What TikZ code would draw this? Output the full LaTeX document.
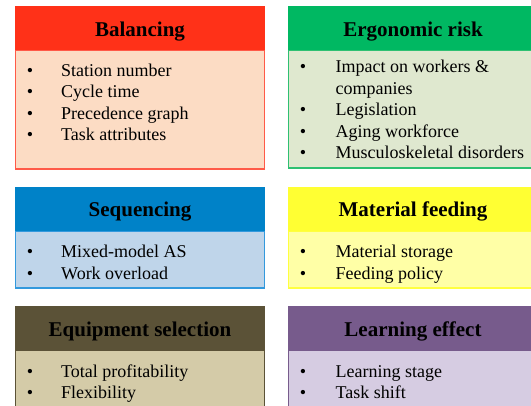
\documentclass[tikz,border=0pt]{standalone}
\usepackage{fontspec}
\setmainfont{Liberation Serif}
\definecolor{balH}{HTML}{FF3118}
\definecolor{balB}{HTML}{FCDCC4}
\definecolor{balE}{HTML}{FF5A48}
\definecolor{ergH}{HTML}{00B862}
\definecolor{ergB}{HTML}{DFE8CF}
\definecolor{ergE}{HTML}{2EC072}
\definecolor{seqH}{HTML}{0082C8}
\definecolor{seqB}{HTML}{BFD5EA}
\definecolor{seqE}{HTML}{3399DD}
\definecolor{matH}{HTML}{FFFF33}
\definecolor{matB}{HTML}{FFFFA6}
\definecolor{matE}{HTML}{FFFF40}
\definecolor{eqH}{HTML}{5B5237}
\definecolor{eqB}{HTML}{D4CBA8}
\definecolor{eqE}{HTML}{5B5237}
\definecolor{leH}{HTML}{775B8C}
\definecolor{leB}{HTML}{D6CCE2}
\definecolor{leE}{HTML}{775B8C}
\newcommand\mypanel[8]{%
  \fill[#7] (#1,#4) rectangle (#2,#5);
  \draw[#8,line width=1.2pt] (#1,#4) rectangle (#2,#5);
  \fill[#6] (#1-0.6,#3) rectangle (#2+0.6,#4);
}
\begin{document}
\begin{tikzpicture}[x=1pt,y=-1pt,
  title/.style={font=\bfseries\fontsize{21}{25}\selectfont, anchor=base, inner sep=0pt},
  item/.style={font=\fontsize{18}{21.5}\selectfont, anchor=base west, inner sep=0pt},
  bul/.style={font=\fontsize{18}{21.5}\selectfont, anchor=base, inner sep=0pt}]
\useasboundingbox (0,0) rectangle (531,405);
\clip (0,0) rectangle (531,405);
\fill[white] (0,0) rectangle (531,405);
% panels
\mypanel{15.5}{264.5}{6}{50}{169}{balH}{balB}{balE}
\mypanel{288.5}{538}{6}{50}{168}{ergH}{ergB}{ergE}
\mypanel{15.5}{264.5}{187}{231}{288}{seqH}{seqB}{seqE}
\mypanel{288.5}{538}{187}{231}{288}{matH}{matB}{matE}
\mypanel{15.5}{264.5}{306}{350}{420}{eqH}{eqB}{eqE}
\mypanel{288.5}{538}{306}{350}{420}{leH}{leB}{leE}
% titles
\node[title] (t1) at (140,36) {Balancing};
\node[title] (t2) at (413,36) {Ergonomic risk};
\node[title] (t3) at (140,216.5) {Sequencing};
\node[title] (t4) at (413,216.5) {Material feeding};
\node[title] (t5) at (140,336) {Equipment selection};
\node[title] (t6) at (413,336) {Learning effect};
% Balancing
\node[bul] (b1a) at (30,76) {•};
\node[item] (b1) at (61,76) {Station number};
\node[bul] (b2a) at (30,97.5) {•};
\node[item] (b2) at (61,97.5) {Cycle time};
\node[bul] (b3a) at (30,119) {•};
\node[item] (b3) at (61,119) {Precedence graph};
\node[bul] (b4a) at (30,140.5) {•};
\node[item] (b4) at (61,140.5) {Task attributes};
% Ergonomic
\node[bul] (e1a) at (303,72.5) {•};
\node[item] (e1) at (335.5,72.5) {Impact on workers \&};
\node[item] (e1b) at (335.5,94) {companies};
\node[bul] (e2a) at (303,115.5) {•};
\node[item] (e2) at (335.5,115.5) {Legislation};
\node[bul] (e3a) at (303,137) {•};
\node[item] (e3) at (335.5,137) {Aging workforce};
\node[bul] (e4a) at (303,158.5) {•};
\node[item] (e4) at (335.5,158.5) {Musculoskeletal disorders};
% Sequencing
\node[bul] (s1a) at (30,257.5) {•};
\node[item] (s1) at (61,257.5) {Mixed-model AS};
\node[bul] (s2a) at (30,279) {•};
\node[item] (s2) at (61,279) {Work overload};
% Material feeding
\node[bul] (m1a) at (303,257.5) {•};
\node[item] (m1) at (335.5,257.5) {Material storage};
\node[bul] (m2a) at (303,279) {•};
\node[item] (m2) at (335.5,279) {Feeding policy};
% Equipment selection
\node[bul] (q1a) at (30,377) {•};
\node[item] (q1) at (61,377) {Total profitability};
\node[bul] (q2a) at (30,398.5) {•};
\node[item] (q2) at (61,398.5) {Flexibility};
% Learning effect
\node[bul] (l1a) at (303,377) {•};
\node[item] (l1) at (335.5,377) {Learning stage};
\node[bul] (l2a) at (303,398.5) {•};
\node[item] (l2) at (335.5,398.5) {Task shift};
\end{tikzpicture}
\end{document}
